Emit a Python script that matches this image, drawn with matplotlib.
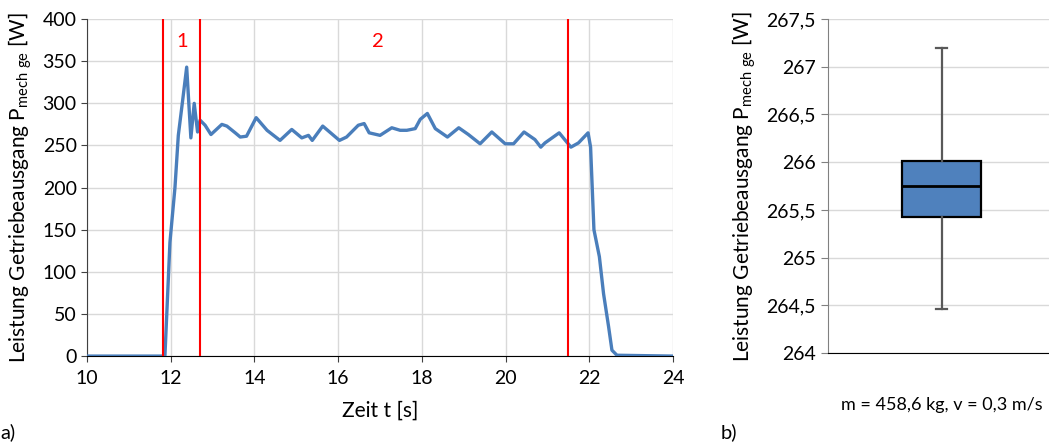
import matplotlib.pyplot as plt

plt.rcParams['font.family'] = ['Lato', 'DejaVu Sans']

# Leistung am Getriebeausgang ueber der Zeit
zeit = [10.0, 11.86, 11.98, 12.10, 12.18, 12.28, 12.38, 12.48, 12.56, 12.64,
        12.70, 12.82, 12.96, 13.22, 13.34, 13.54, 13.66, 13.81, 14.04, 14.30,
        14.61, 14.89, 15.13, 15.29, 15.38, 15.63, 16.03, 16.20, 16.48, 16.62,
        16.74, 17.00, 17.28, 17.48, 17.64, 17.84, 17.96, 18.13, 18.32, 18.61,
        18.88, 19.11, 19.39, 19.67, 19.99, 20.19, 20.44, 20.70, 20.84, 20.94,
        21.28, 21.56, 21.74, 21.97, 22.03, 22.11, 22.24, 22.34, 22.46, 22.54,
        22.66, 24.0]
leistung = [0, 0, 135, 200, 262, 302, 343, 259, 300, 266,
            280, 274, 263, 275, 273, 265, 260, 261, 283, 268,
            256, 269, 259, 262, 256, 273, 256, 260, 274, 276,
            265, 262, 271, 268, 268, 270, 281, 288, 270, 260,
            271, 263, 252, 266, 252, 252, 266, 257, 248, 253,
            265, 248, 253, 265, 248, 150, 118, 74, 35, 7,
            1, 0]

# Bereichsgrenzen
grenzen = [11.81, 12.70, 21.50]
bereiche = ['1', '2']
bereich_pos = [12.27, 16.95]

# Boxplot-Kennwerte
box_stats = [dict(med=265.75, q1=265.43, q3=266.01,
                  whislo=264.46, whishi=267.2, label='')]
box_ticks = [264, 264.5, 265, 265.5, 266, 266.5, 267, 267.5]
box_ticklabels = ['264', '264,5', '265', '265,5', '266', '266,5', '267', '267,5']

fig = plt.figure(figsize=(10.49, 4.44), dpi=100)

# a) Zeitverlauf
ax = fig.add_axes([0.083, 0.198, 0.5586, 0.759])
ax.plot(zeit, leistung, color='#4A7EBB', lw=2.4, zorder=3)
for g in grenzen:
    ax.axvline(g, color='#FF0000', lw=1.5, zorder=4)
for txt, x in zip(bereiche, bereich_pos):
    ax.text(x, 373, txt, color='#FF0000', fontsize=14.5, ha='center', va='center')
ax.set_xlim(10, 24)
ax.set_ylim(0, 400)
ax.set_xticks(range(10, 25, 2))
ax.set_yticks(range(0, 401, 50))
ax.grid(True, color='#D9D9D9', lw=1)
ax.set_axisbelow(True)
for s in ['top', 'right']:
    ax.spines[s].set_visible(False)
ax.spines['left'].set_color('#404040')
ax.spines['bottom'].set_color('black')
ax.tick_params(labelsize=14, length=4, direction='out', colors='#404040',
               labelcolor='black')
ax.tick_params(axis='x', pad=6)
ax.set_xlabel('Zeit t [s]', fontsize=15, labelpad=10)
ax.set_ylabel(r'Leistung Getriebeausgang P$_{\mathregular{mech\ ge}}$ [W]',
              fontsize=15, labelpad=6)
fig.text(0.0, 0.027, 'a)', fontsize=14.5, ha='left', va='center')

# b) Boxplot
bx = fig.add_axes([0.789, 0.205, 0.211, 0.752])
bx.bxp(box_stats, positions=[0.516], widths=0.357, showfliers=False,
       patch_artist=True,
       boxprops=dict(facecolor='#4F81BD', edgecolor='black', lw=1.6),
       medianprops=dict(color='black', lw=2),
       whiskerprops=dict(color='#595959', lw=1.6),
       capprops=dict(color='#595959', lw=1.6), capwidths=0.05)
bx.set_xlim(0, 1)
bx.set_ylim(264, 267.5)
bx.set_yticks(box_ticks)
bx.set_yticklabels(box_ticklabels)
bx.set_xticks([])
bx.yaxis.grid(True, color='#D9D9D9', lw=1)
bx.set_axisbelow(True)
for s in ['top', 'right']:
    bx.spines[s].set_visible(False)
bx.spines['left'].set_color('#808080')
bx.spines['bottom'].set_color('black')
bx.tick_params(axis='y', labelsize=14, length=5, colors='#808080',
               labelcolor='black')
bx.set_ylabel(r'Leistung Getriebeausgang P$_{\mathregular{mech\ ge}}$ [W]',
              fontsize=15, labelpad=6)
fig.text(0.898, 0.088, 'm = 458,6 kg, v = 0,3 m/s', fontsize=13,
         ha='center', va='center')
fig.text(0.695, 0.027, 'b)', fontsize=14.5, ha='center', va='center')

fig.savefig('out.png', dpi=100)
